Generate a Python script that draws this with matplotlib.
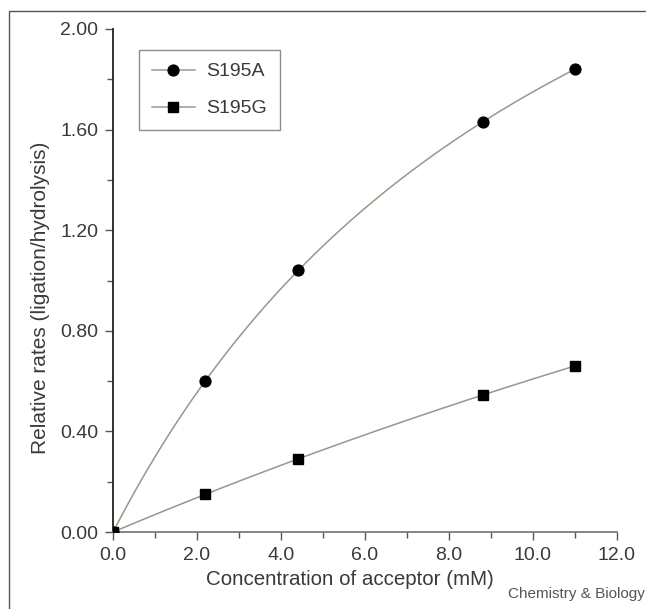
import numpy as np
import matplotlib
matplotlib.use('Agg')
import matplotlib.pyplot as plt
from matplotlib.patches import Rectangle
from matplotlib.ticker import MultipleLocator

plt.rcParams['font.family'] = ['Liberation Sans', 'DejaVu Sans']

# acceptor concentration (mM) and relative rates
conc = [0.0, 2.2, 4.4, 8.8, 11.0]
s195a = [0.0, 0.60, 1.04, 1.63, 1.84]
s195g = [0.0, 0.15, 0.29, 0.545, 0.66]

line_col = '#a09488'
text_col = '#3a3a3a'


# hyperbolic fit y = a*x/(b+x), least squares over a grid of b
def fit_hyperbola(x, y):
    x = np.array(x)
    y = np.array(y)
    best = None
    for b in np.linspace(0.5, 200, 4000):
        f = x / (b + x)
        a = np.sum(y * f) / np.sum(f * f)
        err = np.sum((y - a * f) ** 2)
        if best is None or err < best[2]:
            best = (a, b, err)
    return best[0], best[1]


fig = plt.figure(figsize=(6.46, 6.09), dpi=100)
ax = fig.add_axes([0.175, 0.1264, 0.780, 0.826])

xs = np.linspace(0, max(conc), 200)
for data, mk, ms, lab in [(s195a, 'o', 7.8, 'S195A'), (s195g, 's', 7, 'S195G')]:
    a, b = fit_hyperbola(conc, data)
    ax.plot(xs, a * xs / (b + xs), color=line_col, lw=1.1, zorder=1)
    ax.plot(conc, data, linestyle='none', marker=mk, ms=ms, color='black', zorder=3)
    # legend proxy
    ax.plot([], [], color=line_col, lw=1.1, marker=mk, ms=ms, mfc='black', mec='black', label=lab)

ax.set_xlim(0, 12)
ax.set_ylim(0, 2)
ax.xaxis.set_minor_locator(MultipleLocator(1))
ax.yaxis.set_minor_locator(MultipleLocator(0.2))
ax.set_xticks(np.arange(0, 12.1, 2))
ax.set_xticklabels([f'{v:.1f}' for v in np.arange(0, 12.1, 2)])
ax.set_yticks(np.arange(0, 2.01, 0.4))
ax.set_yticklabels([f'{v:.2f}' for v in np.arange(0, 2.01, 0.4)])

for s in ['top', 'right']:
    ax.spines[s].set_visible(False)
ax.spines['left'].set_color('#222222')
ax.spines['bottom'].set_color('#7a6e66')
ax.spines['left'].set_linewidth(1.3)
ax.spines['bottom'].set_linewidth(1.2)
ax.tick_params(which='major', length=5.8, width=1.0, colors='#5a524c', labelcolor=text_col,
               labelsize=14, pad=5)
ax.tick_params(which='minor', length=4, width=1.0, colors='#5a524c')

ax.set_xlabel('Concentration of acceptor (mM)', fontsize=14.8, color=text_col)
ax.set_ylabel('Relative rates (ligation/hydrolysis)', fontsize=15, color=text_col)
ax.xaxis.set_label_coords(0.47, -0.075)
ax.yaxis.set_label_coords(-0.125, 0.465)

leg = ax.legend(loc='upper left', bbox_to_anchor=(0.052, 0.958), borderaxespad=0,
                frameon=True, fancybox=False, fontsize=14, handlelength=2.2,
                labelspacing=1.0, borderpad=0.65, handletextpad=0.6)
leg.get_frame().set_edgecolor('#7a6e66')
leg.get_frame().set_linewidth(1.0)
for t in leg.get_texts():
    t.set_color(text_col)

fig.text(0.998, 0.013, 'Chemistry & Biology', ha='right', va='bottom', fontsize=11, color='#555555')

# outer frame of the panel
fig.patches.append(Rectangle((9 / 646, -0.05), 1.0, 1 - 11 / 609 + 0.05,
                             transform=fig.transFigure, fill=False,
                             edgecolor='#555555', lw=1.0))

fig.savefig('out.png', dpi=100)
